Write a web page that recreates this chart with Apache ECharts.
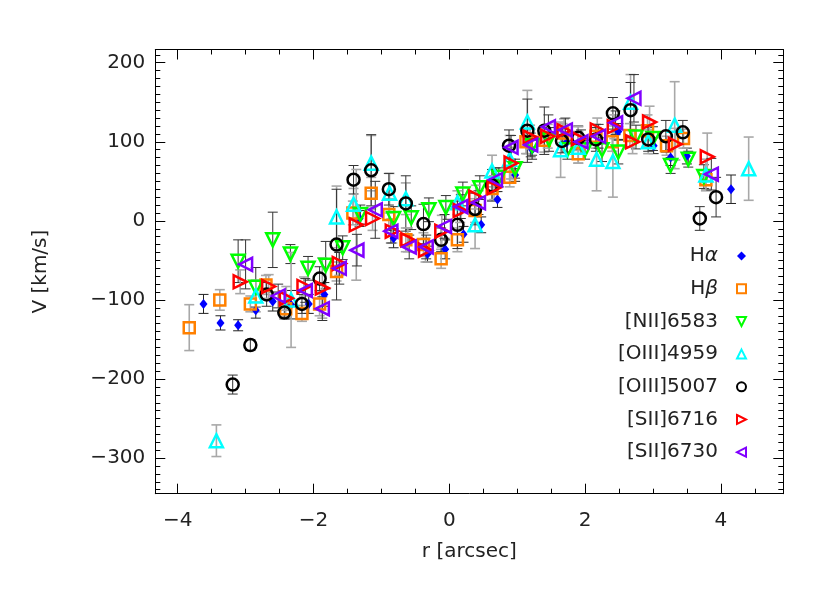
<!DOCTYPE html>
<html>
<head>
<meta charset="utf-8">
<script src="https://cdn.jsdelivr.net/npm/echarts@6/dist/echarts.min.js"></script>
<style>html,body{margin:0;padding:0;background:#fff}#c{width:830px;height:593px}</style>
</head>
<body>
<div id="c"></div>
<script>
// ---- data: [r (arcsec), V (km/s), error (km/s)] ----
const HA = [[-3.62,-105,12],[-3.37,-129,9],[-3.11,-132,7],[-2.85,-113,10],[-2.60,-102,12],[-2.33,-106,18],[-2.07,-105,12],[-1.84,-93,15],[-1.32,3,10],[-0.82,-22,12],[-0.32,-42,10],[-0.06,-36,12],[0.21,-17,10],[0.47,-5,10],[0.71,27,10],[0.97,58,8],[1.22,90,12],[1.73,99,12],[2.49,113,10],[3.01,95,10],[3.26,80,10],[3.50,82,10],[4.15,40,18]];
const HB = [[-3.83,-135,29],[-3.38,-100,13],[-2.93,-105,10],[-2.70,-81,12],[-2.41,-111,10],[-2.17,-117,10],[-1.91,-105,15],[-1.66,-64,12],[-1.42,10,15],[-1.15,35,20],[-0.89,8,20],[-0.64,-24,15],[-0.38,-30,15],[-0.12,-48,12],[0.12,-24,15],[0.38,13,15],[0.63,41,15],[0.89,55,12],[1.13,100,15],[1.40,102,15],[1.67,111,12],[1.90,85,12],[2.16,107,15],[2.40,100,12],[2.66,108,15],[2.92,114,20],[3.20,95,12],[3.45,104,12],[3.78,52,12]];
const NII = [[-3.11,-51,27],[-2.85,-84,25],[-2.60,-24,35],[-2.34,-42,12],[-2.08,-60,15],[-1.82,-56,30],[-1.57,-34,15],[-1.31,8,12],[-0.82,3,15],[-0.56,4,15],[-0.30,14,15],[-0.05,17,15],[0.20,34,15],[0.45,42,15],[0.73,55,12],[0.97,66,12],[1.22,95,12],[1.47,103,15],[1.74,90,12],[2.00,90,12],[2.25,90,15],[2.49,87,15],[2.75,106,15],[3.00,104,15],[3.26,70,10],[3.52,78,10],[3.75,56,15]];
const OIII4959 = [[-3.43,-278,20],[-2.85,-95,20],[-2.33,-100,60],[-1.66,5,39],[-1.41,21,20],[-1.15,73,35],[-0.88,35,25],[-0.64,28,20],[0.12,23,15],[0.38,-5,30],[0.63,63,20],[0.89,78,30],[1.15,125,40],[1.64,90,35],[1.90,93,20],[2.17,78,40],[2.41,75,45],[2.67,150,35],[2.93,100,15],[3.32,121,55],[3.78,58,20],[4.41,66,40]];
const OIII5007 = [[-3.19,-207,12],[-2.93,-157,7],[-2.69,-93,15],[-2.43,-116,8],[-2.17,-105,12],[-1.91,-73,15],[-1.66,-30,70],[-1.41,52,18],[-1.15,64,45],[-0.89,40,20],[-0.64,22,35],[-0.38,-4,25],[-0.12,-24,15],[0.12,-5,30],[0.38,15,20],[0.63,45,20],[0.88,95,20],[1.15,114,40],[1.40,114,30],[1.66,101,15],[1.90,105,15],[2.16,103,15],[2.41,136,20],[2.67,140,35],[2.93,103,15],[3.19,107,20],[3.44,112,15],[3.69,3,15],[3.93,30,25]];
const SII6716 = [[-3.08,-77,15],[-2.66,-83,15],[-2.40,-98,15],[-2.14,-83,12],[-1.87,-85,38],[-1.62,-54,15],[-1.37,-5,70],[-1.13,3,15],[-0.84,-13,15],[-0.61,-24,15],[-0.35,-37,15],[-0.11,-13,20],[0.16,13,15],[0.39,30,15],[0.66,42,15],[0.91,73,20],[1.19,106,15],[1.45,107,15],[1.69,114,15],[1.90,104,15],[2.18,115,15],[2.43,119,15],[2.70,100,15],[2.95,125,20],[3.33,97,20],[3.80,81,30]];
const SII6730 = [[-3.00,-55,31],[-2.52,-95,15],[-2.12,-88,15],[-1.87,-111,15],[-1.62,-60,20],[-1.36,-37,20],[-1.09,14,36],[-0.86,-13,15],[-0.59,-33,15],[-0.34,-33,15],[-0.07,-7,15],[0.17,18,15],[0.43,23,15],[0.68,52,15],[0.91,93,15],[1.20,96,15],[1.46,119,15],[1.71,115,15],[1.94,100,15],[2.20,107,15],[2.45,124,15],[2.72,155,30],[3.86,59,20]];

const seriesNames = ['H\u03b1','H\u03b2','[NII]6583','[OIII]4959','[OIII]5007','[SII]6716','[SII]6730'];
const seriesData = [HA, HB, NII, OIII4959, OIII5007, SII6716, SII6730];

// ---- axis ticks ----
const xMajor = [-4,-2,0,2,4];
const xMinor = [-4,-3.5,-3,-2.5,-2,-1.5,-1,-0.5,0,0.5,1,1.5,2,2.5,3,3.5,4,4.5];
const yMajor = [-300,-200,-100,0,100,200];
const yMinor = [];
for (let v = -340; v <= 210; v += 10) yMinor.push(v);

const X_MIN = -4.33, X_MAX = 4.92, Y_MIN = -345, Y_MAX = 216.7;
const FONT = 'DejaVu Sans';
const TXT = '#222';

const styles = [
  {symbol:'diamond', size:[8,10], rotate:0, color:'#0000ff', fill:true, err:'#222', errW:1, icon:'diamond'},
  {symbol:'rect', size:11, rotate:0, color:'#ff8000', fill:false, err:'#a8a8a8', errW:1.6, icon:'rect'},
  {symbol:'triangle', size:13, rotate:180, color:'#00ff00', fill:false, err:'#333', errW:1, icon:'path://M0,0L10,0L5,10Z'},
  {symbol:'triangle', size:13, rotate:0, color:'#00ffff', fill:false, err:'#a8a8a8', errW:1.6, icon:'path://M5,0L10,10L0,10Z'},
  {symbol:'circle', size:12, rotate:0, color:'#000000', fill:false, err:'#333', errW:1, icon:'circle'},
  {symbol:'triangle', size:13, rotate:-90, color:'#ff0000', fill:false, err:'#a8a8a8', errW:1.6, icon:'path://M0,0L10,5L0,10Z'},
  {symbol:'triangle', size:13, rotate:90, color:'#8000ff', fill:false, err:'#333', errW:1, icon:'path://M10,0L0,5L10,10Z'}
];

function fmt(v){ return v < 0 ? '\u2212' + Math.abs(v) : String(v); }

function xAx(pos, ticks, len, labels, line){
  return {type:'value', min:X_MIN, max:X_MAX, position:pos,
    axisLine:{show:line, onZero:false, lineStyle:{color:'#000', width:1}},
    axisTick:{show:true, inside:true, length:len, customValues:ticks, lineStyle:{color:'#000', width:1}},
    axisLabel:labels ? {show:true, customValues:xMajor, formatter:fmt, margin:17, fontFamily:FONT, fontSize:20, color:TXT} : {show:false},
    splitLine:{show:false}};
}
function yAx(pos, ticks, len, labels, line){
  return {type:'value', min:Y_MIN, max:Y_MAX, position:pos,
    axisLine:{show:line, onZero:false, lineStyle:{color:'#000', width:1}},
    axisTick:{show:true, inside:true, length:len, customValues:ticks, lineStyle:{color:'#000', width:1}},
    axisLabel:labels ? {show:true, customValues:yMajor, formatter:fmt, margin:10, fontFamily:FONT, fontSize:20, color:TXT} : {show:false},
    splitLine:{show:false}};
}

const xAxes = [xAx('bottom', xMajor, 10, true, true), xAx('bottom', xMinor, 5, false, false),
               xAx('top', xMajor, 10, false, true), xAx('top', xMinor, 5, false, false)];
Object.assign(xAxes[0], {name:'r [arcsec]', nameLocation:'middle', nameGap:48,
  nameTextStyle:{fontFamily:FONT, fontSize:20, color:TXT}});
const yAxes = [yAx('left', yMajor, 10, true, true), yAx('left', yMinor, 5, false, false),
               yAx('right', yMajor, 10, false, true), yAx('right', yMinor, 5, false, false)];
Object.assign(yAxes[0], {name:'V [km/s]', nameLocation:'middle', nameGap:105,
  nameTextStyle:{fontFamily:FONT, fontSize:20, color:TXT}});

const series = [];
seriesData.forEach((d, i) => {
  const st = styles[i];
  series.push({
    type:'custom', name:seriesNames[i] + ' err', xAxisIndex:0, yAxisIndex:0, z:1, silent:true,
    data:d, encode:{x:0, y:1},
    renderItem:function(params, api){
      const x = api.value(0), y = api.value(1), e = api.value(2);
      const t = api.coord([x, y + e]), b = api.coord([x, y - e]);
      const hw = 5, ls = {stroke:st.err, lineWidth:st.errW};
      return {type:'group', children:[
        {type:'line', shape:{x1:t[0], y1:t[1], x2:b[0], y2:b[1]}, style:ls},
        {type:'line', shape:{x1:t[0]-hw, y1:t[1], x2:t[0]+hw, y2:t[1]}, style:ls},
        {type:'line', shape:{x1:b[0]-hw, y1:b[1], x2:b[0]+hw, y2:b[1]}, style:ls}
      ]};
    }
  });
});
seriesData.forEach((d, i) => {
  const st = styles[i];
  series.push({
    type:'scatter', name:seriesNames[i], xAxisIndex:0, yAxisIndex:0, z:3,
    data:d.map(p => [p[0], p[1]]),
    symbol:st.symbol, symbolSize:st.size, symbolRotate:st.rotate,
    itemStyle: st.fill ? {color:st.color, opacity:1} :
      {color:'rgba(255,255,255,0)', borderColor:st.color, borderWidth:2.5, opacity:1},
    emphasis:{disabled:true}
  });
});

const chart = echarts.init(document.getElementById('c'), null, {renderer:'canvas'});
chart.setOption({
  animation:false,
  backgroundColor:'#fff',
  grid:{left:155.3, right:46.7, top:49.5, bottom:99.3, containLabel:false},
  xAxis:xAxes,
  yAxis:yAxes,
  legend:{
    data:seriesNames.map((n, i) => ({name:n, icon:styles[i].icon})),
    orient:'vertical', align:'right', right:83, top:245, padding:0,
    itemGap:10.7, itemWidth:9, itemHeight:9, selectedMode:false,
    itemStyle:{borderWidth:2},
    formatter:function(n){ return n.replace('\u03b1','{g|\u03b1}').replace('\u03b2','{g|\u03b2}'); },
    textStyle:{fontFamily:FONT, fontSize:20, color:TXT, lineHeight:22, padding:[0,14,0,0],
      rich:{g:{fontFamily:FONT, fontSize:20, fontStyle:'italic', color:TXT, lineHeight:22}}}
  },
  series:series
});
</script>
</body>
</html>
